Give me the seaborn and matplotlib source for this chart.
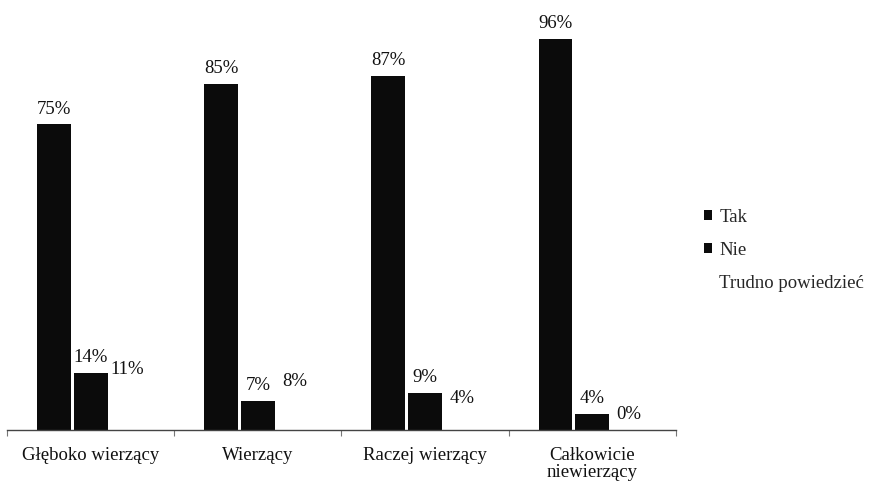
import matplotlib
matplotlib.use("Agg")
import matplotlib.pyplot as plt
import matplotlib.patches as mpatches
import numpy as np
import pandas as pd
import seaborn as sns

categories = ["Głęboko wierzący", "Wierzący", "Raczej wierzący", "Całkowicie\nniewierzący"]
series = ["Tak", "Nie", "Trudno powiedzieć"]
tak = [75, 85, 87, 96]
nie = [14, 7, 9, 4]
trudno = [11, 8, 4, 0]

df = pd.DataFrame({
    "kategoria": categories * 3,
    "odpowiedź": [series[0]] * 4 + [series[1]] * 4 + [series[2]] * 4,
    "procent": tak + nie + trudno,
})

sns.set_theme(style="white")
plt.rcParams["font.family"] = ["Liberation Serif", "DejaVu Serif"]

fig = plt.figure(figsize=(8.7, 4.82), dpi=100)
ax = fig.add_axes([0.008, 0.108, 0.769, 0.845])

palette = {"Tak": "#0b0b0b", "Nie": "#0b0b0b", "Trudno powiedzieć": "#ffffff"}
sns.barplot(data=df, x="kategoria", y="procent", hue="odpowiedź",
            hue_order=series, order=categories, palette=palette,
            width=0.66, gap=0.08, saturation=1, legend=False, ax=ax,
            linewidth=0, errorbar=None)

for cont in ax.containers:
    ax.bar_label(cont, fmt="%d%%", padding=5, fontsize=13.5, color="#111111",
                 clip_on=False)

ax.set_xlim(-0.5, 3.5)
ax.set_ylim(0, 100)
ax.set_xlabel("")
ax.set_ylabel("")
ax.set_yticks([])
for s in ["left", "top", "right"]:
    ax.spines[s].set_visible(False)
ax.spines["bottom"].set_color("#444444")
ax.spines["bottom"].set_linewidth(1.0)

ax.set_xticks(range(len(categories)))
ax.set_xticklabels(categories, fontsize=13.5, color="#111111", linespacing=1.0)
ax.tick_params(axis="x", which="major", length=0, pad=12)
ax.set_xticks(np.arange(-0.5, 4.0, 1.0), minor=True)
ax.tick_params(axis="x", which="minor", length=4, width=0.8, color="#777777",
               direction="out", bottom=True)

handles = [mpatches.Patch(facecolor=palette[s], edgecolor="none") for s in series]
fig.legend(handles, series, loc="upper left", bbox_to_anchor=(0.800, 0.582),
           frameon=False, fontsize=13.5, handlelength=0.45, handleheight=0.45,
           handletextpad=0.4, labelspacing=0.85, borderaxespad=0)

fig.savefig("out.png", dpi=100, facecolor="white")
